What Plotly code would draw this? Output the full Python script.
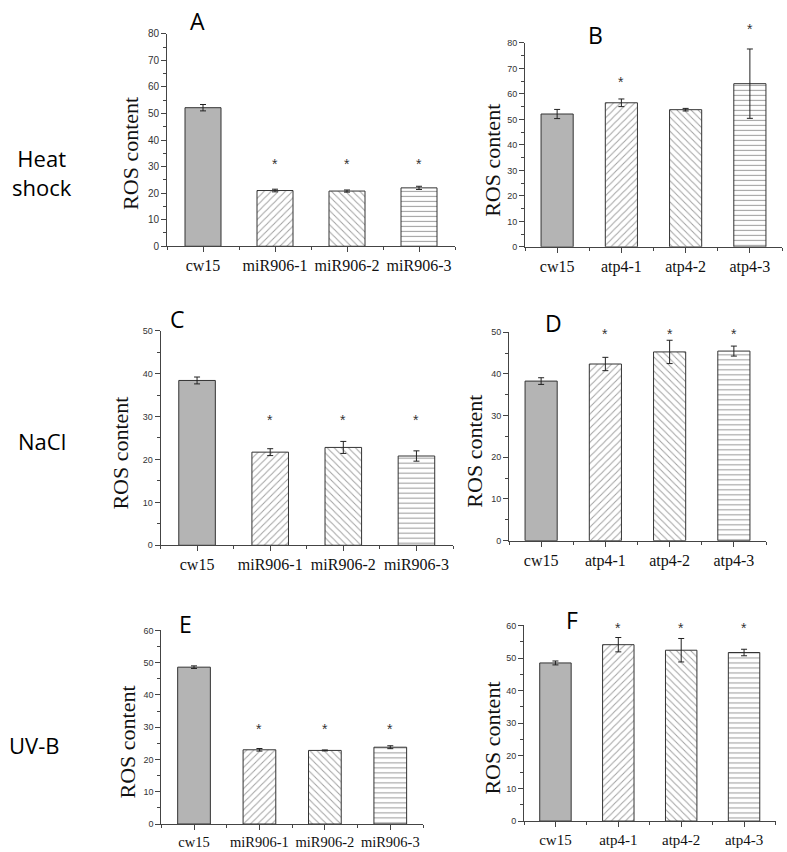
import plotly.graph_objects as go

W, H = 787, 852

# ---------------- data ----------------
mir_labels = ["cw15", "miR906-1", "miR906-2", "miR906-3"]
atp_labels = ["cw15", "atp4-1", "atp4-2", "atp4-3"]

# A: heat shock, miR906 lines
heat_mir = [52.2, 21.0, 20.8, 22.0]
heat_mir_err = [1.2, 0.5, 0.4, 0.6]
heat_mir_star = [None, 32.3, 32.3, 32.3]
# B: heat shock, atp4 lines
heat_atp = [52.1, 56.5, 53.8, 64.0]
heat_atp_err = [1.8, 1.5, 0.5, 13.6]
heat_atp_star = [None, 66.0, None, 86.5]
# C: NaCl, miR906 lines
nacl_mir = [38.4, 21.7, 22.8, 20.8]
nacl_mir_err = [0.8, 0.8, 1.4, 1.2]
nacl_mir_star = [None, 29.8, 29.8, 29.8]
# D: NaCl, atp4 lines
nacl_atp = [38.3, 42.4, 45.3, 45.5]
nacl_atp_err = [0.8, 1.6, 2.8, 1.2]
nacl_atp_star = [None, 50.4, 50.4, 50.4]
# E: UV-B, miR906 lines
uvb_mir = [48.6, 23.0, 22.8, 23.8]
uvb_mir_err = [0.4, 0.4, 0.15, 0.45]
uvb_mir_star = [None, 30.5, 30.5, 30.5]
# F: UV-B, atp4 lines
uvb_atp = [48.5, 54.1, 52.4, 51.7]
uvb_atp_err = [0.6, 2.2, 3.6, 1.0]
uvb_atp_star = [None, 60.0, 60.0, 60.0]

row_labels = ["Heat<br>shock", "NaCl", "UV-B"]
panel_letters = ["A", "B", "C", "D", "E", "F"]
y_title = "ROS content"

# ---------------- layout geometry (pixels) ----------------
panels = [
    (heat_mir, heat_mir_err, heat_mir_star, mir_labels, (167, 455, 243.7, 28.3), 80, (131, 150), (197, 15), 10, 16),
    (heat_atp, heat_atp_err, heat_atp_star, atp_labels, (525, 782, 244.3, 37.4), 80, (493, 156), (595, 29), 9, 16),
    (nacl_mir, nacl_mir_err, nacl_mir_star, mir_labels, (160.5, 453, 547, 329.3), 50, (121, 453), (177, 317), 9, 16),
    (nacl_atp, nacl_atp_err, nacl_atp_star, atp_labels, (509, 766, 542.3, 331), 50, (475, 452), (553, 322), 9, 16),
    (uvb_mir, uvb_mir_err, uvb_mir_star, mir_labels, (161.3, 423, 829.7, 633.3), 60, (127, 747), (185, 627), 9, 14.5),
    (uvb_atp, uvb_atp_err, uvb_atp_star, atp_labels, (524, 775.5, 826.7, 628.3), 60, (493, 742), (572, 623), 9, 15),
]

fills = ["#b4b4b4", "white", "white", "white"]
shapes = ["", "/", "\\", "-"]
solid = [0.2, 0.2, 0.2, 0.22]
AX = "#444444"

fig = go.Figure()
annotations = []

def px_x(p):
    return p / W

def px_y(p):
    return 1 - p / H

for i, (vals, errs, stars, labels, box, ymax, tpos, lpos, tfs, xfs) in enumerate(panels):
    n = i + 1
    xa = "x" if n == 1 else f"x{n}"
    ya = "y" if n == 1 else f"y{n}"
    xpos = list(range(len(labels)))
    fig.add_trace(go.Bar(
        x=xpos, y=vals, width=0.5,
        xaxis=xa, yaxis=ya,
        marker=dict(
            color=fills,
            line=dict(color="#333333", width=1),
            pattern=dict(shape=shapes, fgcolor="#1a1a1a", bgcolor="white",
                         size=5, solidity=solid, fillmode="overlay"),
        ),
        error_y=dict(type="data", array=errs, color="#222222", thickness=1, width=3),
        showlegend=False, hoverinfo="skip",
    ))
    # significance stars (y given as fraction of the y-axis domain so they may sit above the range)
    for xp, s in zip(xpos, stars):
        if s is not None:
            annotations.append(dict(
                x=xp, y=s / ymax, xref=xa, yref=f"{ya} domain", text="*", showarrow=False,
                font=dict(family="Liberation Sans, Arial, sans-serif", size=14, color="#333333"),
                xanchor="center", yanchor="middle", yshift=-3,
            ))
    x0, x1, yb, yt = box
    axis_x = dict(
        domain=[px_x(x0), px_x(x1)], anchor=ya,
        range=[-0.5, len(labels) - 0.5],
        tickmode="array", tickvals=xpos, ticktext=labels, tickangle=0,
        ticks="outside", ticklen=5, tickwidth=1, tickcolor=AX,
        minor=dict(ticks="outside", ticklen=3, tickwidth=1, tickcolor=AX,
                   tickmode="linear", tick0=-0.5, dtick=1),
        showline=True, linecolor=AX, linewidth=1,
        showgrid=False, zeroline=False,
        tickfont=dict(family="Liberation Serif, Times New Roman, serif", size=xfs, color="#111111"),
        fixedrange=True,
    )
    axis_y = dict(
        domain=[px_y(yb), px_y(yt)], anchor=xa,
        range=[0, ymax], dtick=10, tick0=0,
        ticks="outside", ticklen=5, tickwidth=1, tickcolor=AX,
        minor=dict(ticks="outside", ticklen=3, tickwidth=1, tickcolor=AX, dtick=5),
        showline=True, linecolor=AX, linewidth=1,
        showgrid=False, zeroline=False,
        tickfont=dict(family="Liberation Sans, Arial, sans-serif", size=tfs, color="#333333"),
        fixedrange=True,
    )
    fig.update_layout(**{("xaxis" if n == 1 else f"xaxis{n}"): axis_x,
                         ("yaxis" if n == 1 else f"yaxis{n}"): axis_y})
    # y-axis title
    annotations.append(dict(
        x=px_x(tpos[0]), y=px_y(tpos[1]), xref="paper", yref="paper",
        text=y_title, textangle=-90, showarrow=False,
        font=dict(family="Liberation Serif, Times New Roman, serif", size=22, color="#111111"),
        xanchor="center", yanchor="middle",
    ))
    # panel letter
    annotations.append(dict(
        x=px_x(lpos[0]), y=px_y(lpos[1]), xref="paper", yref="paper",
        text=panel_letters[i], showarrow=False,
        font=dict(family="Open Sans, Noto Sans, sans-serif", size=23, color="#000000"),
        xanchor="center", yanchor="middle",
    ))

# row labels
row_pos = [(42, 169), (42, 441), (34, 750)]
for lab, (rx, ry) in zip(row_labels, row_pos):
    annotations.append(dict(
        x=px_x(rx), y=px_y(ry), xref="paper", yref="paper",
        text=lab, showarrow=False, align="center",
        font=dict(family="Open Sans, Noto Sans, sans-serif", size=22, color="#000000"),
        xanchor="center", yanchor="middle",
    ))

fig.update_layout(
    width=W, height=H,
    margin=dict(l=0, r=0, t=0, b=0),
    paper_bgcolor="white", plot_bgcolor="white",
    annotations=annotations,
    showlegend=False,
)

fig.write_html(
    "out.html",
    config={"displayModeBar": False},
    post_script="document.body.style.margin='0';document.body.style.overflow='hidden';",
)
